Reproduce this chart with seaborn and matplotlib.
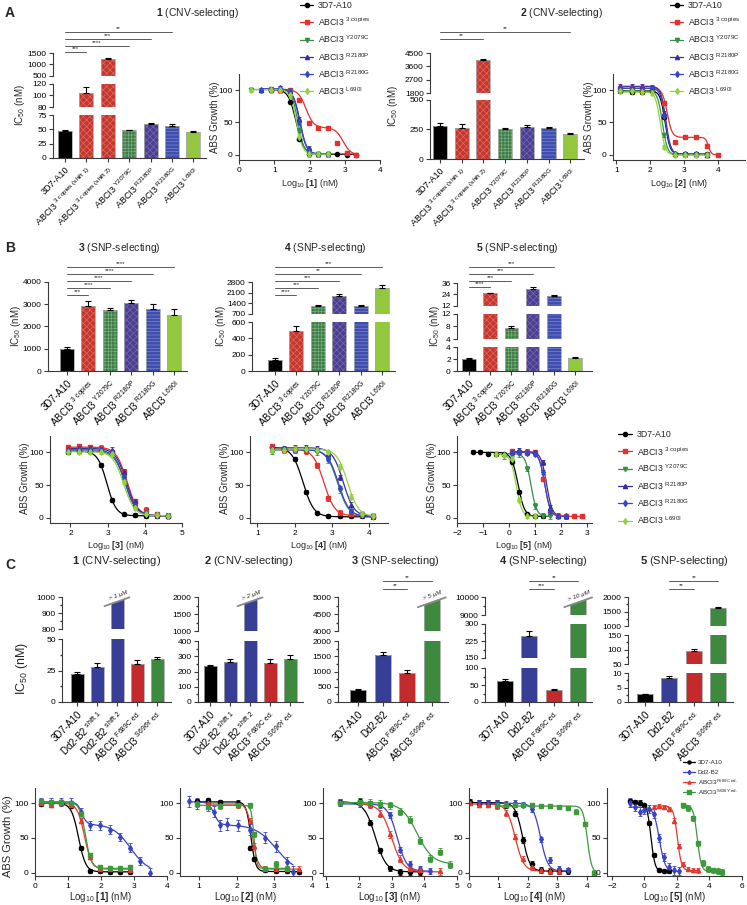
import numpy as np
import pandas as pd
import matplotlib
matplotlib.use("Agg")
import matplotlib.pyplot as plt
from matplotlib.ticker import AutoMinorLocator
from matplotlib.patches import Polygon
import seaborn as sns

sns.set_theme(style="ticks")
plt.rcParams.update({
    "font.family": ["Liberation Sans", "DejaVu Sans"],
    "mathtext.fontset": "custom",
    "mathtext.rm": "Liberation Sans",
    "mathtext.it": "Liberation Sans:italic",
    "mathtext.bf": "Liberation Sans:bold",
    "axes.linewidth": 0.8,
    "axes.edgecolor": "#3a3a3a",
    "xtick.major.size": 3, "ytick.major.size": 3,
    "xtick.minor.size": 1.8, "ytick.minor.size": 1.8,
    "xtick.major.width": 0.8, "ytick.major.width": 0.8,
    "xtick.major.pad": 2, "ytick.major.pad": 1.5,
    "xtick.color": "#3a3a3a", "ytick.color": "#3a3a3a",
    "xtick.labelcolor": "black", "ytick.labelcolor": "black",
    "hatch.linewidth": 0.5,
})
nan = np.nan

# ── DATA ─────────────────────────────────────────────────────
ab_keys = ["3D7-A10", "3 copies", "Y2079C", "R2180P", "R2180G", "L690I"]
ab_legend = ["3D7-A10", r"ABCI3 $^{\mathrm{3\ copies}}$", r"ABCI3 $^{\mathrm{Y2079C}}$",
             r"ABCI3 $^{\mathrm{R2180P}}$", r"ABCI3 $^{\mathrm{R2180G}}$", r"ABCI3 $^{\mathrm{L690I}}$"]
c_keys = ["3D7-A10", "Dd2-B2", "F689C", "S696Y"]
c_legend = ["3D7-A10", "Dd2-B2", r"ABCI3$^{\mathrm{F689C\ ed.}}$", r"ABCI3$^{\mathrm{S696Y\ ed.}}$"]

A_bar_labels = ["3D7-A10", r"ABCI3 $^{\mathrm{3\ copies\ (shift\ 1)}}$", r"ABCI3 $^{\mathrm{3\ copies\ (shift\ 2)}}$",
                r"ABCI3 $^{\mathrm{Y2079C}}$", r"ABCI3 $^{\mathrm{R2180P}}$", r"ABCI3 $^{\mathrm{R2180G}}$",
                r"ABCI3 $^{\mathrm{L690I}}$"]
B_bar_labels = ["3D7-A10", r"ABCI3 $^{\mathrm{3\ copies}}$", r"ABCI3 $^{\mathrm{Y2079C}}$",
                r"ABCI3 $^{\mathrm{R2180P}}$", r"ABCI3 $^{\mathrm{R2180G}}$", r"ABCI3 $^{\mathrm{L690I}}$"]
C12_labels = ["3D7-A10", r"Dd2-B2 $^{\mathrm{shift\ 1}}$", r"Dd2-B2 $^{\mathrm{shift\ 2}}$",
              r"ABCI3 $^{\mathrm{F689C\ ed.}}$", r"ABCI3 $^{\mathrm{S696Y\ ed.}}$"]
C345_labels = ["3D7-A10", "Dd2-B2", r"ABCI3 $^{\mathrm{F689C\ ed.}}$", r"ABCI3 $^{\mathrm{S696Y\ ed.}}$"]

# IC50 bars (nM) and SEM
A1_ic50 = [47, 105, 1240, 48.5, 58.5, 56, 45]
A1_err = [1, 9, 60, 1, 2.8, 3, 2]
A2_ic50 = [280, 265, 4030, 250, 275, 260, 215]
A2_err = [25, 32, 70, 15, 12, 15, 8]
B3_ic50 = [1000, 2900, 2760, 3040, 2790, 2520]
B3_err = [70, 260, 80, 170, 220, 260]
B4_ic50 = [138, 495, 1230, 1900, 1230, 2420]
B4_err = [18, 55, 50, 80, 45, 170]
B5_ic50 = [2.0, 25.2, 7.4, 30, 22, 2.1]
B5_err = [0.15, 0.7, 0.7, 1.5, 1.0, 0.3]
C1_ic50 = [22, 27.5, 1000, 30, 34]
C1_err = [2, 3.5, nan, 3, 1.5]
C2_ic50 = [235, 265, 2000, 258, 280]
C2_err = [10, 14, nan, 25, 25]
C3_ic50 = [380, 1550, 950, 5000]
C3_err = [50, 80, 110, nan]
C4_ic50 = [63, 248, 35, 10000]
C4_err = [5, 20, 4, nan]
C5_ic50 = [2.6, 8.2, 95, 1620]
C5_err = [0.3, 0.8, 8, 40]
cut_text = ["> 1 µM", "> 2 µM", "> 5 µM", "> 10 µM"]

# dose-response points (log10 nM, % growth)
A1_x = [0.35, 0.63, 0.9, 1.17, 1.44, 1.71, 1.98, 2.25, 2.52, 2.79, 3.06, 3.33]
A1_y = {"3D7-A10": [nan, nan, 101, 101, 82, 25, 2, 2, 1, 1, 0, 0],
        "3 copies": [nan, nan, 101, 101, 100, 85, 49, 42, 42, 19, 3, 0],
        "Y2079C": [101, nan, 102, 99, 98, 38, 2, 1, 1, nan, nan, nan],
        "R2180P": [nan, 101, 102, 103, 99, 55, 10, 2, 1, nan, nan, nan],
        "R2180G": [nan, 101, 101, 103, 98, 50, 8, 2, 1, nan, nan, nan],
        "L690I": [101, nan, 101, 100, 92, 28, 1, 1, 1, nan, nan, nan]}
A1_fit = {"3D7-A10": (1, [(100, 1.62, 4)]), "3 copies": (0, [(59, 1.9, 4), (42, 2.95, 4)]),
          "Y2079C": (1, [(100, 1.67, 5)]), "R2180P": (1, [(101, 1.73, 4.5)]),
          "R2180G": (1, [(101, 1.72, 4.5)]), "L690I": (1, [(100, 1.63, 5)])}
A1_sem = {"3D7-A10": 1, "3 copies": 2, "Y2079C": 3, "R2180P": 3, "R2180G": 3, "L690I": 4}

A2_x = [1.1, 1.45, 1.75, 2.05, 2.41, 2.73, 3.03, 3.36, 3.68, 4.0]
A2_y = {"3D7-A10": [99, 97, 97, 98, 59, 2, 1, 1, 1, nan],
        "3 copies": [103, 104, 103, 102, 80, 20, 28, 27, 14, 0],
        "Y2079C": [98, 99, 100, 98, 30, 1, 0, 0, 0, nan],
        "R2180P": [106, 106, 107, 105, 65, 2, 1, 1, 0, nan],
        "R2180G": [103, 103, 104, 103, 60, 2, 1, 1, 0, nan],
        "L690I": [98, 98, 97, 96, 12, 0, 0, 0, 0, nan]}
A2_fit = {"3D7-A10": (1, [(98, 2.44, 6)]), "3 copies": (0, [(76, 2.5, 6), (27, 3.72, 10)]),
          "Y2079C": (0, [(99, 2.36, 6)]), "R2180P": (1, [(105, 2.46, 6)]),
          "R2180G": (1, [(102, 2.45, 6)]), "L690I": (0, [(97, 2.3, 6)])}
A2_sem = {"3D7-A10": 3, "3 copies": 3, "Y2079C": 3, "R2180P": 3, "R2180G": 3, "L690I": 3}

B3_x = [1.93, 2.23, 2.53, 2.83, 3.13, 3.43, 3.73, 4.03, 4.33, 4.63]
B3_y = {"3D7-A10": [101, 102, 102, 80, 27, 5, 4, 3, 3, 2],
        "3 copies": [108, 109, 108, 107, 100, 70, 25, 12, 5, 3],
        "Y2079C": [101, 102, 103, 101, 99, 62, 20, 8, 4, 3],
        "R2180P": [105, 106, 106, 105, 104, 70, 25, 8, 4, 3],
        "R2180G": [104, 105, 104, 103, 101, 62, 20, 7, 4, 3],
        "L690I": [100, 101, 101, 100, 97, 55, 15, 6, 4, 3]}
B3_fit = {"3D7-A10": (3, [(99, 2.98, 3.5)]), "3 copies": (3, [(105, 3.52, 3)]),
          "Y2079C": (3, [(99, 3.47, 3)]), "R2180P": (3, [(103, 3.5, 3)]),
          "R2180G": (3, [(101, 3.47, 3)]), "L690I": (3, [(98, 3.43, 3)])}
B3_sem = {"3D7-A10": 3, "3 copies": 4, "Y2079C": 3, "R2180P": 4, "R2180G": 3, "L690I": 3}

B4_x = [1.4, 1.7, 2.0, 2.3, 2.6, 2.9, 3.2, 3.5, 3.8, 4.1]
B4_y = {"3D7-A10": [108, 105, 90, 40, 8, 3, 2, 2, 2, 1],
        "3 copies": [109, 104, 103, 102, 80, 30, 8, 5, 4, 2],
        "Y2079C": [102, 103, 104, 103, 100, 88, 42, 10, 4, 2],
        "R2180P": [106, 106, 107, 108, 106, 97, 62, 20, 5, 2],
        "R2180G": [104, 104, 104, 104, 103, 90, 45, 10, 4, 2],
        "L690I": [104, 104, 105, 105, 104, 100, 78, 32, 6, 2]}
B4_fit = {"3D7-A10": (1.5, [(106, 2.22, 3)]), "3 copies": (3, [(102, 2.78, 3)]),
          "Y2079C": (2, [(102, 3.15, 3)]), "R2180P": (2, [(105, 3.3, 3)]),
          "R2180G": (2, [(102, 3.17, 3)]), "L690I": (2, [(103, 3.42, 3)])}
B4_sem = {"3D7-A10": 3, "3 copies": 4, "Y2079C": 4, "R2180P": 4, "R2180G": 3, "L690I": 4}

B5_x = [-1.4, -1.1, -0.8, -0.5, -0.2, 0.1, 0.4, 0.7, 1.0, 1.3, 1.6, 1.9, 2.2, 2.5, 2.8]
B5_y = {"3D7-A10": [101, 101, 98, 97, 97, 86, 40, 5, 2, 2, nan, nan, nan, nan, nan],
        "3 copies": [nan, nan, nan, nan, nan, 102, 101, 100, 100, 60, 8, 2, 2, 2, 2],
        "Y2079C": [nan, nan, nan, nan, 94, 98, 97, 75, 18, 3, 2, nan, nan, nan, nan],
        "R2180P": [nan, nan, nan, nan, nan, 100, 103, 101, 100, 85, 15, 3, 2, nan, nan],
        "R2180G": [nan, nan, nan, nan, nan, 101, 100, 99, 98, 70, 10, 2, 2, nan, nan],
        "L690I": [nan, nan, nan, 98, 96, 90, 27, 3, 2, nan, nan, nan, nan, nan, nan]}
B5_fit = {"3D7-A10": (2, [(98, 0.35, 3.5)]), "3 copies": (2, [(99, 1.38, 4)]),
          "Y2079C": (2, [(96, 0.85, 4)]), "R2180P": (2, [(99, 1.45, 4)]),
          "R2180G": (2, [(98, 1.38, 4)]), "L690I": (2, [(95, 0.28, 4)])}
B5_sem = {"3D7-A10": 2, "3 copies": 3, "Y2079C": 4, "R2180P": 4, "R2180G": 3, "L690I": 3}

C1_x = [0.18, 0.48, 0.78, 1.08, 1.38, 1.68, 1.98, 2.28, 2.58, 2.88, 3.18, 3.48]
C1_y = {"3D7-A10": [99, 100, 100, 96, 36, 2, 2, 1, 1, 1, nan, nan],
        "Dd2-B2": [102, 101, 102, 101, 87, 68, 68, 62, 51, 36, 17, 0],
        "F689C": [100, 98, 100, 97, 75, 22, 5, 5, 5, 4, nan, nan],
        "S696Y": [103, 102, 102, 100, 85, 25, 8, 7, 7, 8, nan, nan]}
C1_fit = {"3D7-A10": (1, [(99, 1.32, 4)]), "Dd2-B2": (0, [(32, 1.42, 6), (70, 2.9, 1.6)]),
          "F689C": (5, [(95, 1.5, 4)]), "S696Y": (6, [(95, 1.53, 5)])}
C1_sem = {"3D7-A10": 3, "Dd2-B2": 6, "F689C": 3, "S696Y": 3}

C2_x = [0.75, 0.95, 1.25, 1.4, 1.55, 1.75, 2.05, 2.35, 2.45, 2.75, 3.05, 3.35, 3.5, 3.65]
C2_y = {"3D7-A10": [nan, 103, 104, nan, 102, nan, 101, 35, 20, 4, 2, 2, nan, 1],
        "Dd2-B2": [103, 100, 97, 88, 68, 70, 68, 62, nan, 50, 38, 15, 1, nan],
        "F689C": [nan, nan, 100, nan, 98, nan, 97, 75, 38, 6, 5, 5, nan, 5],
        "S696Y": [nan, 99, 95, nan, 96, nan, 98, 97, 55, 5, 12, 5, nan, nan]}
C2_fit = {"3D7-A10": (1.5, [(100.5, 2.38, 7)]), "Dd2-B2": (0, [(33, 1.4, 6), (69, 3.05, 1.6)]),
          "F689C": (5, [(94, 2.42, 6)]), "S696Y": (6, [(91, 2.46, 12)])}
C2_sem = {"3D7-A10": 3, "Dd2-B2": 8, "F689C": 4, "S696Y": 4}

C3_x = [1.42, 1.72, 2.03, 2.33, 2.63, 2.94, 3.25, 3.55, 3.86, 4.16, 4.47, 4.78]
C3_y = {"3D7-A10": [102, nan, 103, 72, 32, 6, 1, 1, 1, nan, nan, nan],
        "Dd2-B2": [100, nan, 99, 98, 97, 83, 33, 12, 5, 2, nan, nan],
        "F689C": [nan, nan, 100, 98, 85, 55, 20, 5, 3, nan, 2, nan],
        "S696Y": [101, nan, 102, 101, 99, 97, 88, 76, 46, 20, 30, 11]}
C3_fit = {"3D7-A10": (1, [(101, 2.5, 2.6)]), "Dd2-B2": (2, [(97, 3.17, 3)]),
          "F689C": (1, [(98, 3.0, 2.5)]), "S696Y": (12, [(89, 3.78, 1.8)])}
C3_sem = {"3D7-A10": 4, "Dd2-B2": 4, "F689C": 5, "S696Y": 5}

C4_x = [0.05, 0.35, 0.65, 0.95, 1.25, 1.55, 1.85, 2.15, 2.45, 2.75, 3.05, 3.35, 3.65, 3.95, 4.25]
C4_y = {"3D7-A10": [102, 101, 100, 100, 97, 85, 47, 12, 4, 2, 2, 2, nan, nan, nan],
        "Dd2-B2": [nan, 101, 101, 100, 99, 100, 98, 92, 48, 18, 5, 3, nan, nan, nan],
        "F689C": [101, 98, 98, 96, 86, 52, 20, 8, 3, 2, 2, nan, nan, nan, nan],
        "S696Y": [nan, nan, nan, 98, 97, 98, 97, 97, 96, 96, 95, 93, 88, 70, 0]}
C4_fit = {"3D7-A10": (2, [(99, 1.82, 3.5)]), "Dd2-B2": (2, [(98, 2.43, 3.5)]),
          "F689C": (2, [(97, 1.57, 3)]), "S696Y": (0, [(96, 4.02, 6)])}
C4_sem = {"3D7-A10": 4, "Dd2-B2": 4, "F689C": 4, "S696Y": 3}

C5_x = [-0.9, -0.6, -0.3, 0.0, 0.3, 0.6, 0.9, 1.2, 1.5, 1.8, 2.1, 2.4, 2.7, 3.0, 3.3, 3.6, 3.9, 4.2, 4.5, 4.8]
C5_y = {"3D7-A10": [103, 102, 101, 98, 72, 25, 4, 2, 2] + [nan] * 11,
        "Dd2-B2": [101, 95, 88, 90, 92, 85, 50, 22, 8, 3, 2] + [nan] * 9,
        "F689C": [nan] * 5 + [95, 96, 95, 92, 75, 38, 12, 5, 4, 3] + [nan] * 5,
        "S696Y": [nan] * 11 + [97, 93, 78, 42, 14, 5, 3, 2, 1]}
C5_fit = {"3D7-A10": (1.5, [(100, 0.4, 3.5)]), "Dd2-B2": (1.5, [(93, 0.92, 2.5)]),
          "F689C": (3, [(93, 2.03, 3.5)]), "S696Y": (1.5, [(96, 3.25, 3.5)])}
C5_sem = {"3D7-A10": 3, "Dd2-B2": 6, "F689C": 3, "S696Y": 4}

# ── STYLE ────────────────────────────────────────────────────
ab_line = {"3D7-A10": "black", "3 copies": "#e3312e", "Y2079C": "#358f47",
           "R2180P": "#3d2c9c", "R2180G": "#3447cc", "L690I": "#93d23f"}
ab_mark = {"3D7-A10": "o", "3 copies": "s", "Y2079C": "v", "R2180P": "^", "R2180G": "d", "L690I": "d"}
ab_bar = ["black", "#c3372f", "#3f7c48", "#4b3f8e", "#3e4fae", "#93c83e"]
ab_hcol = ["black", "#e06a5e", "#75ad7b", "#7468b6", "#7a88d8", "#93c83e"]
ab_hatch = [None, "xxxxx", "+++++", "xxxxx", "-----", None]
c_line = {"3D7-A10": "black", "Dd2-B2": "#3a44c2", "F689C": "#e23a2e", "S696Y": "#3c9a3c"}
c_mark = {"3D7-A10": "o", "Dd2-B2": "d", "F689C": "^", "S696Y": "s"}
c_bar5 = ["black", "#373e96", "#373e96", "#c22a2c", "#3d8a3f"]
c_bar4 = ["black", "#373e96", "#c22a2c", "#3d8a3f"]

W, H = 747, 905
fig = plt.figure(figsize=(W / 100, H / 100), dpi=100)
ov = fig.add_axes([0, 0, 1, 1], zorder=10)
ov.set_xlim(0, W)
ov.set_ylim(H, 0)
ov.axis("off")


def box(x0, x1, yt, yb):
    return fig.add_axes([x0 / W, 1 - yb / H, (x1 - x0) / W, (yb - yt) / H])


def txt(x, y, s, **kw):
    kw.setdefault("ha", "center")
    kw.setdefault("va", "center")
    ov.text(x, y, s, **kw)


def bar_panel(left, right, c0, sp, vals, errs, cols, hatches, hcols, labels, segs,
              minor=False, fsx=6.5, width=0.65):
    n = len(vals)
    x = np.arange(n)
    out = []
    for k, (lo, hi, pb, pt, ticks) in enumerate(segs):
        ax = box(left, right, pt, pb)
        for i in range(n):
            ax.bar(x[i], vals[i], width, color=cols[i], hatch=hatches[i],
                   edgecolor=hcols[i], linewidth=0)
        ax.bar(x, vals, width, fill=False, edgecolor="#a8a8a8", linewidth=0.6)
        ax.errorbar(x, vals, yerr=[np.zeros(n), errs], fmt="none", ecolor="black",
                    elinewidth=0.8, capsize=2.4, capthick=0.8)
        ax.set_xlim((left - c0) / sp, (right - c0) / sp)
        ax.set_ylim(lo, hi)
        ax.set_yticks(ticks)
        ax.tick_params(axis="y", labelsize=6)
        if minor:
            ax.yaxis.set_minor_locator(AutoMinorLocator(2))
        sns.despine(ax=ax)
        if k == 0:
            ax.set_xticks(x)
            ax.set_xticklabels(labels, rotation=45, ha="right", rotation_mode="anchor", fontsize=fsx)
        else:
            ax.spines["bottom"].set_visible(False)
            ax.tick_params(axis="x", bottom=False, labelbottom=False)
        out.append(ax)
    return out


def sig(c0, sp, lines):
    for i0, i1, y, s in lines:
        xa, xb = c0 + i0 * sp, c0 + i1 * sp
        ov.plot([xa, xb], [y, y], color="#5a5a5a", lw=0.7)
        txt((xa + xb) / 2, y - 0.5, s, fontsize=4.5, va="bottom")


def cut(c0, sp, i, ytop, label, width=0.65, s=0.35):
    hw = width * sp / 2
    c = c0 + i * sp
    xl, xr = c - hw, c + hw
    yr = ytop + 2.5
    yl = yr + 2 * hw * s
    ov.add_patch(Polygon([(xl - 1, yl), (xr + 1, yr - 0.7), (xr + 1, ytop - 3), (xl - 1, ytop - 3)],
                         closed=True, facecolor="white", edgecolor="none"))
    ov.plot([xl - 6, xr + 6], [yl + 6 * s, yr - 6 * s], color="#8a8a8a", lw=1.3)
    ang = np.degrees(np.arctan(s))
    txt(c + 1, (yl + yr) / 2 - 6.5, label, fontsize=4.5, style="italic", rotation=ang)


def curve_panel(x0, x1, yt, yb, xlim, xticks, xs, ys, fits, sem, keys, colors, marks,
                ylim=(-8, 125), ms=3):
    ax = box(x0, x1, yt, yb)
    rows = []
    xs = np.asarray(xs, float)
    for k in keys:
        y = np.asarray(ys[k], float)
        xx = xs[~np.isnan(y)]
        grid = np.linspace(xx.min(), xx.max(), 300)
        bottom, phases = fits[k]
        fy = np.full_like(grid, bottom)
        for drop, ic, h in phases:
            fy = fy + drop / (1 + 10 ** ((grid - ic) * h))
        rows.append(pd.DataFrame({"x": grid, "y": fy, "s": k}))
    df = pd.concat(rows, ignore_index=True)
    sns.lineplot(data=df, x="x", y="y", hue="s", palette=colors, legend=False,
                 errorbar=None, linewidth=0.9, ax=ax)
    for k in keys:
        ax.errorbar(xs, ys[k], yerr=sem[k], fmt=marks[k], color=colors[k], ms=ms,
                    elinewidth=0.6, capsize=1.5, capthick=0.6, lw=0)
    ax.set_xlim(*xlim)
    ax.set_ylim(*ylim)
    ax.set_xticks(xticks)
    ax.set_yticks([0, 50, 100])
    ax.set_xlabel("")
    ax.set_ylabel("")
    ax.tick_params(labelsize=6)
    sns.despine(ax=ax)
    return ax


def legend(x0, x1, xt, y0, dy, labels, keys, colors, marks, fs=6, ms=3):
    for j, k in enumerate(keys):
        y = y0 + j * dy
        ov.plot([x0, x1], [y, y], color=colors[k], lw=0.9)
        ov.plot([(x0 + x1) / 2], [y], marker=marks[k], color=colors[k], ms=ms, lw=0)
        txt(xt, y, labels[j], fontsize=fs, ha="left")


ic_lab = r"IC$_{50}$ (nM)"

# ── PANEL A ──────────────────────────────────────────────────
txt(10, 13, "A", fontsize=10, fontweight="bold")
txt(198, 13, r"$\mathbf{1}$ (CNV-selecting)", fontsize=7.5)
txt(562, 13, r"$\mathbf{2}$ (CNV-selecting)", fontsize=7.5)

hA = [None, "xxxxx", "xxxxx", "+++++", "xxxxx", "-----", None]
colA = [ab_bar[0], ab_bar[1], ab_bar[1]] + ab_bar[2:]
hcolA = [ab_hcol[0], ab_hcol[1], ab_hcol[1]] + ab_hcol[2:]
bar_panel(53, 206, 65, 21.4, A1_ic50, A1_err, colA, hA, hcolA, A_bar_labels,
          [(0, 75, 158, 115, [0, 25, 50, 75]), (80, 120, 107, 84, [80, 100, 120]),
           (500, 1500, 76, 53, [500, 1000, 1500])], fsx=6.5)
sig(65, 21.4, [(0, 5, 32, "**"), (0, 4, 39, "***"), (0, 3, 46, "****"), (0, 1, 52, "***")])
txt(20, 105, ic_lab, fontsize=7, rotation=90)

bar_panel(430, 584, 440, 21.7, A2_ic50, A2_err, colA, hA, hcolA, A_bar_labels,
          [(0, 500, 159, 100, [0, 250, 500]), (1800, 4500, 93, 53, [1800, 2700, 3600, 4500])], fsx=6.5)
sig(440, 21.7, [(0, 6, 32, "**"), (0, 2, 39, "**")])
txt(393, 106, ic_lab, fontsize=7, rotation=90)

curve_panel(239, 380, 74, 160, (0, 4), [0, 1, 2, 3, 4], A1_x, A1_y, A1_fit, A1_sem,
            ab_keys, ab_line, ab_mark)
txt(215, 117, "ABS Growth (%)", fontsize=7, rotation=90)
txt(310, 184, r"Log$_{10}$ $\mathbf{[1]}$ (nM)", fontsize=6.5)
legend(300, 313, 318, 5, 17.3, ab_legend, ab_keys, ab_line, ab_mark, fs=6.3)

curve_panel(613, 745, 74, 160, (0.9, 4.8), [1, 2, 3, 4], A2_x, A2_y, A2_fit, A2_sem,
            ab_keys, ab_line, ab_mark)
txt(589, 117, "ABS Growth (%)", fontsize=7, rotation=90)
txt(679, 184, r"Log$_{10}$ $\mathbf{[2]}$ (nM)", fontsize=6.5)
legend(670, 683, 688, 5, 17.3, ab_legend, ab_keys, ab_line, ab_mark, fs=6.3)

# ── PANEL B ──────────────────────────────────────────────────
txt(10, 248, "B", fontsize=10, fontweight="bold")
txt(119, 248, r"$\mathbf{3}$ (SNP-selecting)", fontsize=7.5)
txt(325, 248, r"$\mathbf{4}$ (SNP-selecting)", fontsize=7.5)
txt(517, 248, r"$\mathbf{5}$ (SNP-selecting)", fontsize=7.5)

bar_panel(48, 187, 67, 21.4, B3_ic50, B3_err, ab_bar, ab_hatch, ab_hcol, B_bar_labels,
          [(0, 4000, 371, 282, [0, 1000, 2000, 3000, 4000])], fsx=7)
sig(67, 21.4, [(0, 5, 267, "****"), (0, 4, 274, "****"), (0, 3, 281, "****"),
               (0, 2, 288, "****"), (0, 1, 295, "***")])
txt(16, 326, ic_lab, fontsize=7, rotation=90)

bar_panel(252, 395, 275, 21.4, B4_ic50, B4_err, ab_bar, ab_hatch, ab_hcol, B_bar_labels,
          [(0, 600, 371, 322, [0, 200, 400, 600]), (700, 2800, 314, 282, [700, 1400, 2100, 2800])], fsx=7)
sig(275, 21.4, [(0, 5, 267, "***"), (0, 4, 274, "**"), (0, 3, 281, "***"),
                (0, 2, 288, "***"), (0, 1, 295, "****")])
txt(221, 326, ic_lab, fontsize=7, rotation=90)

bar_panel(457, 592, 469, 21.2, B5_ic50, B5_err, ab_bar, ab_hatch, ab_hcol, B_bar_labels,
          [(0, 4, 371, 347, [0, 2, 4]), (4, 12, 339, 314, [4, 8, 12]), (12, 36, 306, 283, [12, 24, 36])],
          fsx=7)
sig(469, 21.2, [(0, 4, 267, "***"), (0, 3, 274, "***"), (0, 2, 281, "***"), (0, 1, 287, "****")])
txt(435, 326, ic_lab, fontsize=7, rotation=90)

for (x0, x1, xlim, xt, xs, ys, ft, sm, n, yl) in [
        (50, 182, (1.45, 5), [2, 3, 4, 5], B3_x, B3_y, B3_fit, B3_sem, 3, 25),
        (250, 388, (0.8, 4.5), [1, 2, 3, 4], B4_x, B4_y, B4_fit, B4_sem, 4, 225),
        (457, 592, (-2, 3.2), [-2, -1, 0, 1, 2, 3], B5_x, B5_y, B5_fit, B5_sem, 5, 432)]:
    curve_panel(x0, x1, 436, 523, xlim, xt, xs, ys, ft, sm, ab_keys, ab_line, ab_mark)
    txt(yl, 478, "ABS Growth (%)", fontsize=7, rotation=90)
    txt((x0 + x1) / 2, 545, r"Log$_{10}$ $\mathbf{[%d]}$ (nM)" % n, fontsize=6.5)
legend(618, 632, 637, 434, 17.3, ab_legend, ab_keys, ab_line, ab_mark, fs=6.3)

# ── PANEL C ──────────────────────────────────────────────────
txt(10, 565, "C", fontsize=10, fontweight="bold")
for cx, n, kind in [(117, 1, "CNV"), (249, 2, "CNV"), (395, 3, "SNP"), (543, 4, "SNP"), (684, 5, "SNP")]:
    txt(cx, 561, r"$\mathbf{%d}$ (%s-selecting)" % (n, kind), fontsize=8)

hC5 = [None] * 5
hC4 = [None] * 4
bar_panel(62, 171, 77, 20, C1_ic50, C1_err, c_bar5, hC5, c_bar5, C12_labels,
          [(0, 50, 702, 639, [0, 25, 50]), (800, 1000, 629, 597, [800, 900, 1000])], minor=True, fsx=7)
cut(77, 20, 2, 597, cut_text[0])
bar_panel(198, 303, 210, 20, C2_ic50, C2_err, c_bar5, hC5, c_bar5, C12_labels,
          [(0, 400, 702, 641, [0, 100, 200, 300, 400]), (1000, 2000, 631, 597, [1000, 1500, 2000])],
          minor=True, fsx=7)
cut(210, 20, 2, 597, cut_text[1])
bar_panel(338, 448, 358, 24.6, C3_ic50, C3_err, c_bar4, hC4, c_bar4, C345_labels,
          [(0, 2000, 702, 641, [0, 500, 1000, 1500, 2000]), (4000, 5000, 631, 597, [4000, 4500, 5000])],
          minor=True, fsx=7)
cut(358, 24.6, 3, 597, cut_text[2])
sig(358, 24.6, [(1, 3, 581, "**"), (1, 2, 589, "**")])
bar_panel(485, 592, 505, 24.4, C4_ic50, C4_err, c_bar4, hC4, c_bar4, C345_labels,
          [(0, 100, 702, 668, [0, 50, 100]), (150, 300, 658, 624, [150, 225, 300]),
           (9000, 10000, 615, 597, [9000, 10000])], minor=True, fsx=7)
cut(505, 24.4, 3, 597, cut_text[3])
sig(505, 24.4, [(1, 3, 581, "**"), (1, 2, 589, "***")])
bar_panel(628, 733, 645, 24.4, C5_ic50, C5_err, c_bar4, hC4, c_bar4, C345_labels,
          [(0, 10, 702, 673, [0, 5, 10]), (50, 150, 664, 635, [50, 100, 150]),
           (1000, 2000, 626, 597, [1000, 1500, 2000])], minor=True, fsx=7)
sig(645, 24.4, [(1, 3, 581, "**"), (1, 2, 589, "**")])
txt(22, 668, ic_lab, fontsize=9, rotation=90)

for (x0, x1, xlim, xt, xs, ys, ft, sm, n) in [
        (35, 167, (0, 4), [0, 1, 2, 3, 4], C1_x, C1_y, C1_fit, C1_sem, 1),
        (180, 312, (0.5, 4), [1, 2, 3, 4], C2_x, C2_y, C2_fit, C2_sem, 2),
        (323, 457, (0.9, 5), [1, 2, 3, 4, 5], C3_x, C3_y, C3_fit, C3_sem, 3),
        (469, 600, (0, 4.45), [0, 1, 2, 3, 4], C4_x, C4_y, C4_fit, C4_sem, 4),
        (607, 742, (-2.3, 6), [-2, 0, 2, 4, 6], C5_x, C5_y, C5_fit, C5_sem, 5)]:
    curve_panel(x0, x1, 788, 876, xlim, xt, xs, ys, ft, sm, c_keys, c_line, c_mark,
                ylim=(-5, 122), ms=3)
    txt((x0 + x1) / 2, 897, r"Log$_{10}$ $\mathbf{[%d]}$ (nM)" % n, fontsize=7)
txt(8, 836, "ABS Growth (%)", fontsize=8, rotation=90)
legend(683, 695, 698, 762, 10, c_legend, c_keys, c_line, c_mark, fs=4.5, ms=2.2)

fig.savefig("out.png", dpi=100)
